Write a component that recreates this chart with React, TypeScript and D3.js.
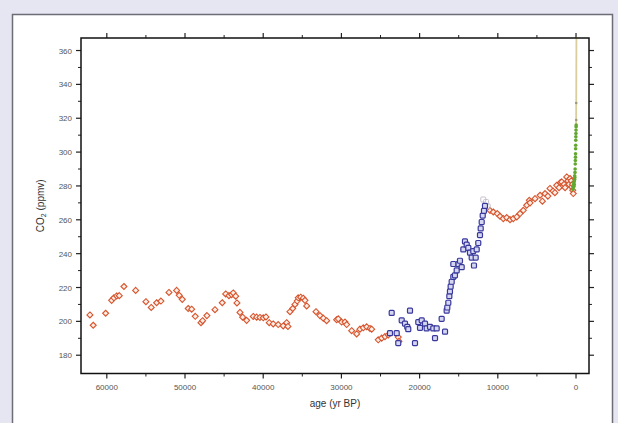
import React from "react";
import * as d3 from "d3";

// Taylor Dome / Byrd style red diamonds: [age yr BP, CO2 ppmv]
const redAges = [62160, 61740, 60150, 59380, 59090, 58740, 58410, 57810, 56310, 55000, 54320, 53630, 53080, 52050, 51070, 50740, 50350, 49590, 49150, 48690, 47960, 47750, 47200, 46170, 45240, 44800, 44380, 44040, 43830, 43520, 43360, 42970, 42630, 42120, 41270, 40840, 40420, 39990, 39650, 39230, 38720, 38080, 37440, 37000, 36840, 36580, 36230, 35940, 35650, 35520, 35210, 34880, 34660, 34440, 33250, 32740, 32320, 31890, 30610, 30400, 29970, 29540, 29330, 28690, 28050, 27630, 27200, 26770, 26350, 26130, 25290, 24850, 24430, 24010, 22730, 22640,
  11000, 10580, 10070, 9720, 9300, 8860, 8440, 8020, 7580, 7160, 6740, 6310, 5970, 5880, 5240, 4600, 4300, 3960, 3600, 3330, 2940, 2700, 2470, 2170, 2000, 1830, 1530, 1400, 1190, 1020, 900, 770, 600, 550, 450, 420, 350];
const redCO2 = [203.8, 197.7, 204.8, 212.4, 213.9, 215, 215.2, 220.6, 218.3, 211.6, 208.2, 211, 212, 217.1, 218.3, 215.4, 213, 207.6, 207.2, 203, 199.2, 200.4, 203.4, 206.9, 211, 216.2, 215.2, 215.8, 216.8, 214.9, 210.9, 205.3, 202.5, 200.6, 202.9, 202.5, 202.3, 202.1, 202.6, 199.2, 198.5, 198.1, 197.3, 199.2, 197, 205.7, 207.6, 210, 212, 213.9, 214.3, 213.7, 212.4, 209.1, 205.7, 203.4, 201.9, 200.4, 201, 201.5, 199.6, 199.6, 198.1, 194.5, 192.6, 195.4, 196.2, 196.8, 195.8, 195.4, 189.1, 190.1, 191, 192, 190.7, 188.2,
  265.5, 264.6, 263.7, 262.1, 260.7, 261.3, 260.1, 260.7, 261.7, 263.7, 265.6, 268.6, 271.5, 270, 272.5, 274.5, 271, 275.5, 274, 278.5, 277, 276, 280.4, 279, 282, 282.4, 281, 279, 285.3, 283, 281, 284.4, 283, 279.4, 281, 277.5, 275.5];

// Vostok-style blue squares
const blueAges = [23790, 23570, 22930, 22730, 22290, 21870, 21580, 21230, 21450, 20590, 20170, 19950, 19730, 19310, 19100, 18670, 18250, 18030, 17820, 17180, 16750, 16540, 16460, 16330, 16200, 16120, 16030, 15900, 15690, 15480, 15260, 15050, 15690, 14840, 14620, 14410, 14200, 13980, 13770, 13560, 13340, 13140, 13050, 12830, 12700, 12500, 12280, 12190, 12060, 11930, 11770, 11640];
const blueCO2 = [193, 205, 193, 187.2, 200.6, 198.7, 196.8, 206.3, 195.4, 187.2, 199.6, 196.2, 200.6, 198.7, 195.8, 196.8, 195.8, 190.1, 195.8, 201.5, 193.9, 206.3, 208.2, 211, 214.9, 217.7, 220.6, 223.4, 226.3, 227.2, 230.1, 233.9, 233.9, 235.8, 232, 242.5, 247.2, 245.3, 243.4, 240.6, 237.7, 241.5, 233, 237.7, 242.5, 246.3, 251, 254.9, 258.7, 262.5, 265.3, 268.2];

// pale open points at the top of the deglacial rise
const paleAges = [11860, 11500, 11300];
const paleCO2 = [272, 270.5, 268];

// Law Dome style green dots
const greenAges = [420, 380, 340, 300, 270, 240, 210, 190, 170, 150, 130, 115, 100, 85, 70, 60, 50, 40, 30, 20, 10, 0, -10, -20];
const greenCO2 = [278, 280, 279, 281, 282, 280, 283, 284, 286, 285, 288, 290, 293, 295, 297, 299, 302, 304, 307, 309, 311, 313, 315, 316];

// Mauna Loa style line
const lineAges = [-8, -10, -12, -15, -18, -20, -22, -25, -28, -30, -33, -35, -38, -40, -42, -45, -47, -50];
const lineCO2 = [316, 317, 318, 320, 322, 325, 327, 329, 331, 334, 338, 341, 345, 349, 353, 357, 362, 368];

const xMajor = [60000, 50000, 40000, 30000, 20000, 10000, 0];
const xMinor = [55000, 45000, 35000, 25000, 15000, 5000];
const yMajor = [180, 200, 220, 240, 260, 280, 300, 320, 340, 360];
const yMinor = [190, 210, 230, 250, 270, 290, 310, 330, 350];

export default function App() {
  const L = 81, R = 589, T = 38, B = 373.5;
  const x = d3.scaleLinear().domain([63300, -1660]).range([L, R]);
  const y = d3.scaleLinear().domain([169.2, 367.4]).range([B, T]);
  const font = "'Liberation Sans', Arial, sans-serif";
  const red = redAges.map((a, i) => [x(a), y(redCO2[i])]);
  const blue = blueAges.map((a, i) => [x(a), y(blueCO2[i])]);
  const pale = paleAges.map((a, i) => [x(a), y(paleCO2[i])]);
  const green = greenAges.map((a, i) => [x(a), y(greenCO2[i])]);
  const linePath = d3.line<number>().x((a) => x(a)).y((_, i) => y(lineCO2[i]))(lineAges) || "";
  return (
    <svg width={618} height={423} style={{ position: "absolute", left: 0, top: 0, display: "block" }}>
      <rect x={0} y={0} width={618} height={423} fill="#e6e6f2" />
      <rect x={12.5} y={14.5} width={600} height={415} fill="#ffffff" stroke="#6d6d78" strokeWidth={1.5} />
      {xMajor.map((v) => (
        <g key={"xm" + v}>
          <line x1={x(v)} x2={x(v)} y1={B} y2={B + 5} stroke="#222" strokeWidth={1.2} />
          <line x1={x(v)} x2={x(v)} y1={T} y2={T - 5} stroke="#222" strokeWidth={1.2} />
          <text x={x(v)} y={B + 16} fontSize={8} fill="#555" textAnchor="middle" fontFamily={font}>{v}</text>
        </g>
      ))}
      {xMinor.map((v) => (
        <g key={"xn" + v}>
          <line x1={x(v)} x2={x(v)} y1={B} y2={B + 3} stroke="#222" strokeWidth={1} />
          <line x1={x(v)} x2={x(v)} y1={T} y2={T - 3} stroke="#222" strokeWidth={1} />
        </g>
      ))}
      {yMajor.map((v) => (
        <g key={"ym" + v}>
          <line x1={L} x2={L - 5} y1={y(v)} y2={y(v)} stroke="#222" strokeWidth={1.2} />
          <line x1={R} x2={R + 5} y1={y(v)} y2={y(v)} stroke="#222" strokeWidth={1.2} />
          <text x={L - 9} y={y(v) + 3} fontSize={8} fill="#555" textAnchor="end" fontFamily={font}>{v}</text>
        </g>
      ))}
      {yMinor.map((v) => (
        <g key={"yn" + v}>
          <line x1={L} x2={L - 3} y1={y(v)} y2={y(v)} stroke="#222" strokeWidth={1} />
          <line x1={R} x2={R + 3} y1={y(v)} y2={y(v)} stroke="#222" strokeWidth={1} />
        </g>
      ))}
      <path d={linePath} fill="none" stroke="#d9cf9c" strokeWidth={1.8} />
      {[329, 319].map((v) => (
        <circle key={"g" + v} cx={x(-25)} cy={y(v)} r={1.3} fill="#9a9a80" />
      ))}
      {red.map(([px, py], i) => (
        <path key={"r" + i} d={`M${px},${py - 3}L${px + 3},${py}L${px},${py + 3}L${px - 3},${py}Z`} fill="#fdeee6" stroke="#d6552e" strokeWidth={1.1} />
      ))}
      {pale.map(([px, py], i) => (
        <rect key={"p" + i} x={px - 2.5} y={py - 2.5} width={5} height={5} rx={1} fill="none" stroke="#c8c0cc" strokeWidth={1} />
      ))}
      {blue.map(([px, py], i) => (
        <rect key={"b" + i} x={px - 2.5} y={py - 2.5} width={5} height={5} rx={1} fill="#d6d6f0" stroke="#38389c" strokeWidth={1.2} />
      ))}
      {green.map(([px, py], i) => (
        <circle key={"gr" + i} cx={px} cy={py} r={1.8} fill="#62a830" />
      ))}
      <rect x={L} y={T} width={R - L} height={B - T} fill="none" stroke="#111" strokeWidth={1.5} />
      <text x={(L + R) / 2} y={407} fontSize={10} fill="#333" textAnchor="middle" fontFamily={font}>age (yr BP)</text>
      <text transform={`translate(44,${(T + B) / 2}) rotate(-90)`} fontSize={10} fill="#333" textAnchor="middle" fontFamily={font}>
        CO<tspan fontSize={7} dy={2}>2</tspan><tspan dy={-2}> (ppmv)</tspan>
      </text>
    </svg>
  );
}
